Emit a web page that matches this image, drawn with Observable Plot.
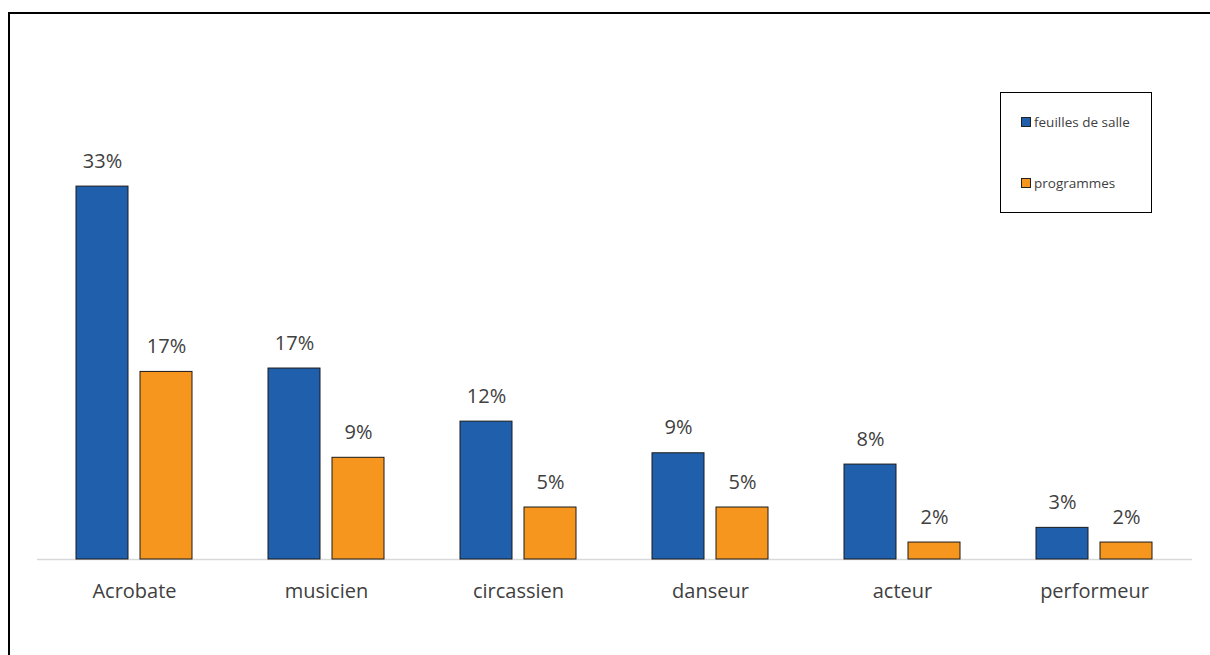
<!DOCTYPE html>
<html>
<head>
<meta charset="utf-8">
<script src="https://cdn.jsdelivr.net/npm/d3@7"></script>
<script src="https://cdn.jsdelivr.net/npm/@observablehq/plot@0.6"></script>
<style>
  html, body { margin: 0; padding: 0; background: #fff; overflow: hidden; }
  #wrap { position: relative; width: 1210px; height: 655px; overflow: hidden; font-family: "Open Sans", sans-serif; }
  #frame { position: absolute; left: 8px; top: 12px; width: 1400px; height: 900px; border: 2px solid #000; box-sizing: border-box; }
  #chart { position: absolute; left: 0; top: 0; }
  #legend { position: absolute; left: 1000px; top: 92px; width: 152px; height: 121px; border: 1px solid #000; box-sizing: border-box; background: #fff; }
  .item { position: absolute; left: 20px; font-size: 13.5px; color: #404040; display: flex; align-items: center; letter-spacing: 0px; }
  .sw { width: 8px; height: 8px; border: 1px solid #222; margin-right: 3px; }
</style>
</head>
<body>
<div id="wrap">
  <div id="frame"></div>
  <div id="chart"></div>
  <div id="legend"></div>
</div>
<script>
const categories = ["Acrobate", "musicien", "circassien", "danseur", "acteur", "performeur"];
const seriesNames = ["feuilles de salle", "programmes"];
const feuilles = [33.0, 16.9, 12.2, 9.4, 8.4, 2.8];
const programmes = [16.6, 9.0, 4.6, 4.6, 1.5, 1.5];
const colors = ["#1f5fab", "#f7961f"];

const rowsF = categories.map((c, i) => ({category: c, value: feuilles[i], label: Math.round(feuilles[i]) + "%"}));
const rowsP = categories.map((c, i) => ({category: c, value: programmes[i], label: Math.round(programmes[i]) + "%"}));

const textStyle = {fontSize: 20, fill: "#404040", lineAnchor: "bottom"};

const chart = Plot.plot({
  width: 1210,
  height: 655,
  marginLeft: 37,
  marginRight: 18,
  marginTop: 107,
  marginBottom: 96,
  style: {fontFamily: "'Open Sans', sans-serif", background: "transparent"},
  x: {domain: categories, range: [38, 1190], paddingInner: 76 / 192, paddingOuter: 38 / 192, label: null},
  y: {domain: [0, 40], range: [559, 107], axis: null},
  marks: [
    Plot.ruleY([0], {stroke: "#d9d9d9", strokeWidth: 1.5}),
    Plot.barY(rowsF, {x: "category", y: "value", fill: colors[0], stroke: "#1a1a1a", strokeWidth: 1, insetRight: 64}),
    Plot.barY(rowsP, {x: "category", y: "value", fill: colors[1], stroke: "#1a1a1a", strokeWidth: 1, insetLeft: 64}),
    Plot.text(rowsF, {x: "category", y: "value", text: "label", dx: -32, dy: -19, ...textStyle}),
    Plot.text(rowsP, {x: "category", y: "value", text: "label", dx: 32, dy: -19, ...textStyle}),
    Plot.axisX({tickSize: 0, tickPadding: 24, fontSize: 20, color: "#404040", label: null})
  ]
});
document.getElementById("chart").appendChild(chart);

const legend = document.getElementById("legend");
seriesNames.forEach((name, i) => {
  const d = document.createElement("div");
  d.className = "item";
  d.style.top = (i === 0 ? 20 : 81) + "px";
  d.innerHTML = `<span class="sw" style="background:${colors[i]}"></span><span>${name}</span>`;
  legend.appendChild(d);
});
</script>
</body>
</html>
